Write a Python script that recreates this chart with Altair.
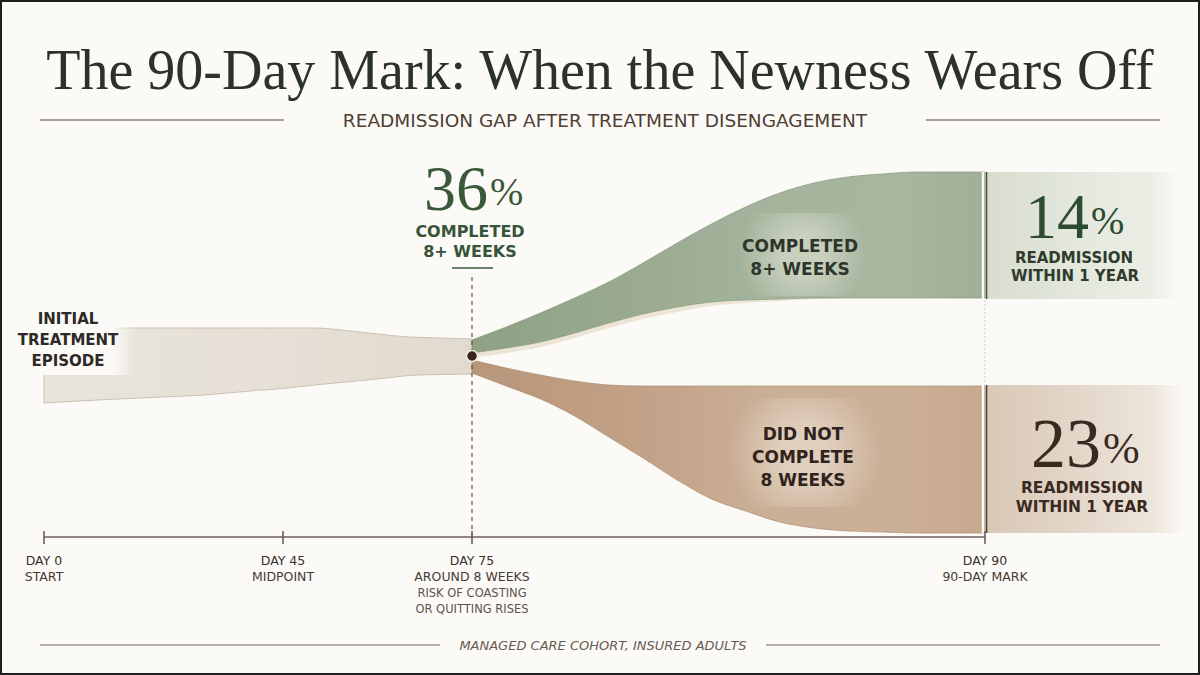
import altair as alt
import pandas as pd

BG = "#fbfaf7"
SANS = "DejaVu Sans"
SERIF = "Liberation Serif"

# ---------------- content ----------------
title_text = "The 90-Day Mark: When the Newness Wears Off"
subtitle_text = "READMISSION GAP AFTER TREATMENT DISENGAGEMENT"
footer_text = "MANAGED CARE COHORT, INSURED ADULTS"

milestone_day = [0, 45, 75, 90]
milestone_name = ["DAY 0", "DAY 45", "DAY 75", "DAY 90"]
milestone_desc = ["START", "MIDPOINT", "AROUND 8 WEEKS", "90-DAY MARK"]
day75_note = ["RISK OF COASTING", "OR QUITTING RISES"]

initial_label = ["INITIAL", "TREATMENT", "EPISODE"]
completed_label = ["COMPLETED", "8+ WEEKS"]
not_completed_label = ["DID NOT", "COMPLETE", "8 WEEKS"]
readmit_label = ["READMISSION", "WITHIN 1 YEAR"]

completed_share = ["36"]
readmit_completed = ["14"]
readmit_not_completed = ["23"]

# flow band edges (vertical offset from the split point, up = positive)
initial_day = [0, 10, 20, 30, 40, 45, 50, 55, 60, 65, 70, 75]
initial_top = [28, 28, 28, 28, 28, 28, 28, 25.5, 22, 19, 18, 17]
initial_bottom = [-47, -44, -41.5, -39, -34.5, -32.5, -29, -26, -23, -19.5, -18.5, -18]

branch_day = [75, 76, 77, 78, 79, 80, 81, 82, 83, 84, 85, 86, 87, 88, 89, 90]
completed_top = [16, 29, 43, 58, 74, 93, 113, 132, 149, 163, 173, 179, 182, 184, 184, 184]
completed_bottom = [3, 8, 14, 23, 33, 42, 49, 54, 56, 57, 58, 58, 58, 58, 58, 58]
not_completed_top = [-4, -12, -19, -25, -29, -30, -30, -30, -30, -30, -30, -30, -30, -30, -30, -30]
not_completed_bottom = [-17, -30, -43, -60, -81, -102, -124, -143, -155, -166, -172, -175,
                        -176, -177, -177, -177]

split_day = [75]
split_offset = [0]

# ---------------- scales ----------------
xs = alt.Scale(domain=[0, 45, 75, 90], range=[44, 283, 472, 985], nice=False, zero=False)
ys = alt.Scale(domain=[-319, 356], range=[675, 0], nice=False, zero=False)


def X(f):
    return alt.X(f, type="quantitative", scale=xs, axis=None)


def Y(f):
    return alt.Y(f, type="quantitative", scale=ys, axis=None)


def grad(stops, horizontal=True):
    return alt.LinearGradient(
        gradient="linear",
        stops=[alt.GradientStop(color=c, offset=o) for o, c in stops],
        x1=0, y1=0, x2=1 if horizontal else 0, y2=0 if horizontal else 1,
    )


def glow(color_in, color_out):
    return alt.RadialGradient(
        gradient="radial",
        stops=[alt.GradientStop(color=color_in, offset=0),
               alt.GradientStop(color=color_in, offset=0.3),
               alt.GradientStop(color=color_out, offset=1)],
        x1=0.5, y1=0.5, r1=0, x2=0.5, y2=0.5, r2=0.5,
    )


def one():
    return pd.DataFrame({"k": [0]})


def txt(s, x, y, size, color, font=SANS, weight="normal", style="normal", align="center"):
    return alt.Chart(pd.DataFrame({"t": [s]})).mark_text(
        font=font, fontSize=size, color=color, fontWeight=weight, fontStyle=style,
        align=align, baseline="alphabetic",
    ).encode(text="t:N", x=alt.value(x), y=alt.value(y))


def hline(x1, x2, y, color, width=1.2, dash=None):
    kw = dict(color=color, strokeWidth=width)
    if dash:
        kw["strokeDash"] = dash
    return alt.Chart(one()).mark_rule(**kw).encode(
        x=alt.value(x1), x2=alt.value(x2), y=alt.value(y))


def vline(x, y1, y2, color, width=1.2, dash=None):
    kw = dict(color=color, strokeWidth=width)
    if dash:
        kw["strokeDash"] = dash
    return alt.Chart(one()).mark_rule(**kw).encode(
        x=alt.value(x), y=alt.value(y1), y2=alt.value(y2))


def box(x1, x2, y1, y2, fill):
    return alt.Chart(one()).mark_rect(color=fill).encode(
        x=alt.value(x1), x2=alt.value(x2), y=alt.value(y1), y2=alt.value(y2))


initial_df = pd.DataFrame({"day": initial_day, "top": initial_top, "bottom": initial_bottom})
comp_df = pd.DataFrame({"day": branch_day, "top": completed_top, "bottom": completed_bottom})
notc_df = pd.DataFrame({"day": branch_day, "top": not_completed_top, "bottom": not_completed_bottom})
ms_df = pd.DataFrame({"day": milestone_day, "name": milestone_name, "desc": milestone_desc})

layers = []

# initial treatment band
layers.append(
    alt.Chart(initial_df).mark_area(
        interpolate="monotone",
        color=grad([(0, "#e9e4db"), (0.5, "#e6e0d6"), (1, "#e1dacf")]),
        stroke="#cbc1b2", strokeWidth=1,
    ).encode(x=X("day"), y=Y("top"), y2="bottom:Q")
)

# soft glow behind the left label
layers.append(box(3, 136, 300, 375, grad([(0, BG), (0.82, BG), (1, "rgba(251,250,247,0)")])))

# pale shadow under the completed band, tapering out
layers.append(
    alt.Chart(comp_df).transform_calculate(
        sh="datum.bottom - max(0, min(5, 86 - datum.day))").mark_area(
        interpolate="monotone", color="#ece4d5"
    ).encode(x=X("day"), y=Y("bottom"), y2="sh:Q")
)

# completed band
layers.append(
    alt.Chart(comp_df).mark_area(
        interpolate="monotone",
        color=grad([(0, "#8ea185"), (0.3, "#99aa90"), (0.6, "#a6b49d"),
                    (0.85, "#a8b59f"), (1, "#a0af97")]),
        stroke="#849878", strokeWidth=1, strokeOpacity=0.7,
    ).encode(x=X("day"), y=Y("top"), y2="bottom:Q")
)
layers.append(box(738, 868, 213, 296, glow("rgba(214,221,204,0.7)", "rgba(214,221,204,0)")))

# did-not-complete band
layers.append(
    alt.Chart(notc_df).mark_area(
        interpolate="monotone",
        color=grad([(0, "#b8967b"), (0.3, "#c1a085"), (0.6, "#cbb098"),
                    (0.85, "#cbaf96"), (1, "#c6a88d")]),
        stroke="#ad8c71", strokeWidth=1, strokeOpacity=0.7,
    ).encode(x=X("day"), y=Y("top"), y2="bottom:Q")
)
layers.append(box(728, 882, 398, 507, glow("rgba(232,218,203,0.75)", "rgba(232,218,203,0)")))

# readmission panels
layers.append(box(987, 1180, 172, 299,
                  grad([(0, "#d8ddcf"), (0.45, "#e3e7dc"), (0.85, "#eceee6"), (1, BG)])))
layers.append(box(987, 1184, 385, 533,
                  grad([(0, "#d9c8b6"), (0.45, "#e3d6c9"), (0.85, "#ede5dc"), (1, BG)])))

# dividers at day 90
layers.append(vline(983, 172, 299, BG, 2.5))
layers.append(vline(983, 385, 533, BG, 2.5))
layers.append(vline(986.5, 172, 299, "#4a5046", 1.6))
layers.append(vline(986.5, 385, 533, "#4d3e33", 1.6))
layers.append(vline(985, 300, 385, "#d2ccc3", 1, [2, 2]))

# dashed marker at day 75
layers.append(
    alt.Chart(pd.DataFrame({"day": split_day})).mark_rule(
        color="#5d4d42", strokeWidth=1.2, strokeDash=[4, 4]
    ).encode(x=X("day"), y=alt.value(277), y2=alt.value(537))
)

# timeline axis
layers.append(
    alt.Chart(pd.DataFrame({"a": [milestone_day[0]], "b": [milestone_day[-1]]})).mark_rule(
        color="#6e6057", strokeWidth=1.6
    ).encode(x=X("a"), x2="b:Q", y=alt.value(537))
)
layers.append(
    alt.Chart(ms_df).mark_rule(color="#6e6057", strokeWidth=1.6).encode(
        x=X("day"), y=alt.value(531), y2=alt.value(544))
)
layers.append(
    alt.Chart(ms_df).mark_text(font=SANS, fontSize=12.5, color="#3a302b", baseline="alphabetic").encode(
        x=X("day"), y=alt.value(565), text="name:N")
)
layers.append(
    alt.Chart(ms_df).mark_text(font=SANS, fontSize=12.5, color="#463b35", baseline="alphabetic").encode(
        x=X("day"), y=alt.value(581), text="desc:N")
)
for i, note in enumerate(day75_note):
    layers.append(
        alt.Chart(pd.DataFrame({"day": [75], "t": [note]})).mark_text(
            font=SANS, fontSize=11.5, color="#5e534c", baseline="alphabetic"
        ).encode(x=X("day"), y=alt.value(597 + 15.5 * i), text="t:N")
    )

# split point
layers.append(
    alt.Chart(pd.DataFrame({"day": split_day, "v": split_offset})).mark_circle(
        size=120, color="#3a2519", opacity=1, stroke="#f1ebe2", strokeWidth=1.5
    ).encode(x=X("day"), y=Y("v"))
)

# title block
layers.append(txt(title_text, 600, 89, 56, "#2b3326", font=SERIF))
layers.append(txt(subtitle_text, 605, 127, 18.5, "#4f3e33"))
layers.append(hline(40, 284, 120, "#8e8176", 1.3))
layers.append(hline(926, 1160, 120, "#8e8176", 1.3))

# 36% completed callout
layers.append(txt(completed_share[0], 488, 210, 64, "#3b5838", font=SERIF, align="right"))
layers.append(txt("%", 490, 205, 40, "#3b5838", font=SERIF, align="left"))
layers.append(txt(completed_label[0], 470, 237, 16, "#37533a", weight="bold"))
layers.append(txt(completed_label[1], 470, 257, 16, "#37533a", weight="bold"))
layers.append(hline(452, 493, 268, "#3c5639", 1.3))

# left label
for i, s in enumerate(initial_label):
    layers.append(txt(s, 68, 324 + 21 * i, 15, "#2d2926", weight="bold"))

# band labels
for i, s in enumerate(completed_label):
    layers.append(txt(s, 800, 252 + 23 * i, 17, "#2e352b", weight="bold"))
for i, s in enumerate(not_completed_label):
    layers.append(txt(s, 803, 440 + 23 * i, 17, "#2f231c", weight="bold"))

# readmission panels text
layers.append(txt(readmit_completed[0], 1089, 238, 64, "#2e4a2f", font=SERIF, align="right"))
layers.append(txt("%", 1091, 234, 40, "#2e4a2f", font=SERIF, align="left"))
layers.append(txt(readmit_label[0], 1074, 263, 15, "#2f3c2c", weight="bold"))
layers.append(txt(readmit_label[1], 1075, 281, 15, "#2f3c2c", weight="bold"))

layers.append(txt(readmit_not_completed[0], 1101, 467, 70, "#3a291f", font=SERIF, align="right"))
layers.append(txt("%", 1103, 463, 44, "#3a291f", font=SERIF, align="left"))
layers.append(txt(readmit_label[0], 1082, 493, 15.5, "#39291f", weight="bold"))
layers.append(txt(readmit_label[1], 1082, 512, 15.5, "#39291f", weight="bold"))

# footer
layers.append(txt(footer_text, 603, 650, 13, "#675b52", style="italic"))
layers.append(hline(40, 440, 645, "#a0968d", 1.5))
layers.append(hline(766, 1160, 645, "#a0968d", 1.5))

chart = alt.layer(*layers).properties(
    width=1200, height=675, background=BG, padding=0,
    autosize=alt.AutoSizeParams(type="none"),
).configure_view(stroke="#1e1e1e", strokeWidth=4)

chart.save("out.html", embed_options={"renderer": "svg", "actions": False})
